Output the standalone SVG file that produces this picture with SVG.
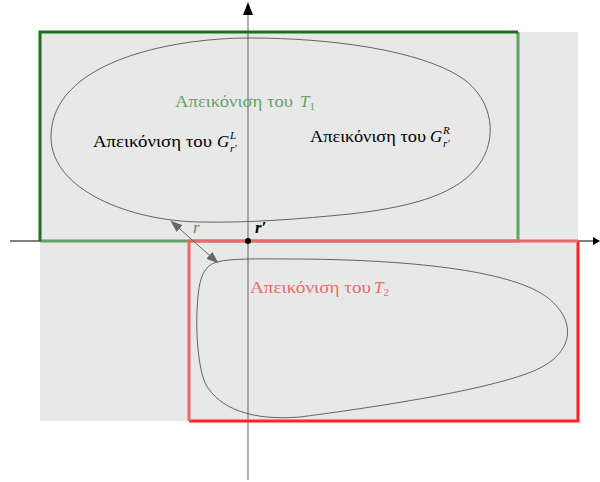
<svg xmlns="http://www.w3.org/2000/svg" width="600" height="482" viewBox="0 0 600 482">
<style>
.t{font-family:"Liberation Serif","DejaVu Serif",serif;font-size:17px}
.i{font-style:italic}
.s{font-size:11px}
.blob{fill:none;stroke:#555;stroke-width:0.9}
</style>
<defs>
<marker id="ah" viewBox="0 0 12 9" refX="11.5" refY="4.5" markerWidth="12" markerHeight="9" markerUnits="userSpaceOnUse" orient="auto-start-reverse">
<path d="M0,0 L12,4.5 L0,9 Z" fill="#666"/>
</marker>
</defs>
<rect x="40" y="32" width="538" height="389" fill="#e8e8e8"/>
<g id="axes">
<line x1="10" y1="241" x2="594" y2="241" stroke="#000" stroke-width="1"/>
<path d="M600,241 L593,237 L593,245 Z" fill="#000"/>
<line x1="248" y1="14" x2="248" y2="480" stroke="#777" stroke-width="1.2"/>
<path d="M248,2 L243,15 L253,15 Z" fill="#000"/>
</g>
<g id="T1">
<path d="M518,32 L518,241 L40,241" fill="none" stroke="#689f68" stroke-width="3"/>
<path d="M40,241 L40,32 L518,32" fill="none" stroke="#1d6e1d" stroke-width="3"/>
</g>
<g id="T2">
<path d="M189,421 L578,421 L578,241" fill="none" stroke="#f22" stroke-width="3"/>
<path d="M578,241 L189,241 L189,421" fill="none" stroke="#e86a6a" stroke-width="3"/>
</g>
<g id="blob1">
<path class="blob" d="M51,137 C51,62 170,38 250,38 C330,38 420,50 462,78 C494,100 498,140 478,166 C458,192 420,206 350,214 C300,219 250,223 200,222 C130,221 51,190 51,137 Z"/>
</g>
<g id="blob2">
<path class="blob" d="M217,262 C232,258 262,259 300,259 C420,260 515,272 548,298 C578,322 572,352 540,368 C505,386 400,404 300,417 C250,421 220,408 206,385 C195,362 195,305 200,283 C203,270 209,264 217,262 Z"/>
</g>
<g id="connectors">
<line x1="171" y1="221" x2="218" y2="263" stroke="#666" stroke-width="1" marker-start="url(#ah)" marker-end="url(#ah)"/>
</g>
<g id="point">
<circle cx="248" cy="241" r="3" fill="#000"/>
<text x="255" y="233" class="t i" font-weight="bold" font-size="15">r′</text>
<text x="193" y="233" class="t i" fill="#777" font-size="14">r</text>
</g>
<g id="label-T1" fill="#6aa06a">
<text x="175" y="107" class="t" textLength="118" lengthAdjust="spacingAndGlyphs">Απεικόνιση του</text>
<text x="300" y="107" class="t i">T<tspan class="s" font-style="normal" dy="3">1</tspan></text>
</g>
<g id="label-GL" fill="#000">
<text x="93" y="147" class="t" textLength="119" lengthAdjust="spacingAndGlyphs">Απεικόνιση του</text>
<text x="217" y="147" class="t i">G</text>
<text x="230" y="139" class="t i s">L</text>
<text x="230" y="152" class="t i s">r′</text>
</g>
<g id="label-GR" fill="#000">
<text x="310" y="142" class="t" textLength="116" lengthAdjust="spacingAndGlyphs">Απεικόνιση του</text>
<text x="430" y="142" class="t i">G</text>
<text x="443" y="134" class="t i s">R</text>
<text x="443" y="147" class="t i s">r′</text>
</g>
<g id="label-T2" fill="#e86a6a">
<text x="250" y="293" class="t" textLength="121" lengthAdjust="spacingAndGlyphs">Απεικόνιση του</text>
<text x="374" y="293" class="t i">T<tspan class="s" font-style="normal" dy="3">2</tspan></text>
</g>
</svg>
